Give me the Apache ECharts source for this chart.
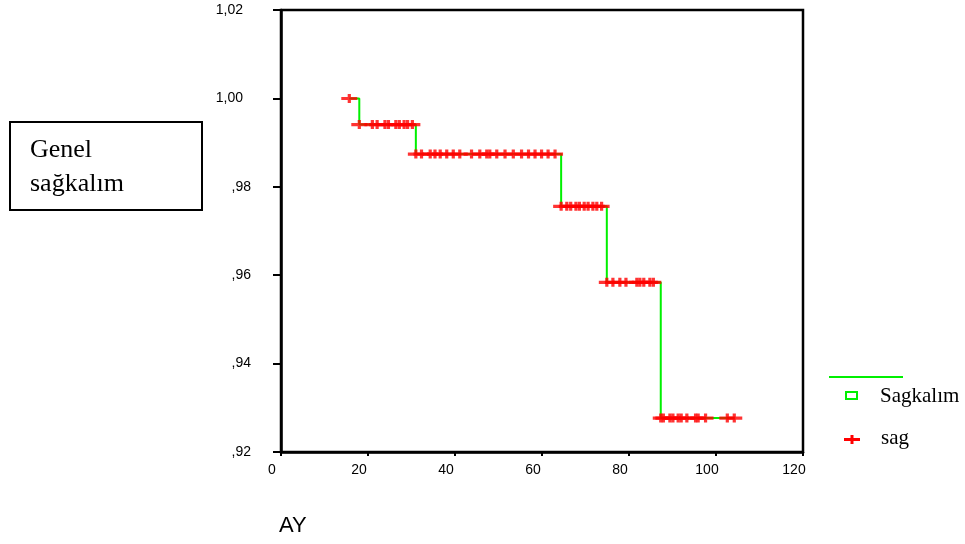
<!DOCTYPE html>
<html>
<head>
<meta charset="utf-8">
<script src="https://cdn.jsdelivr.net/npm/echarts@6/dist/echarts.min.js"></script>
<style>
    html, body { margin: 0; padding: 0; background: #fff; }
    #chart { width: 965px; height: 544px; }
</style>
</head>
<body>
<div id="chart"></div>
<script>
    // Kaplan-Meier step: first time, event (drop) times, survival after each step
    const startTime = 15.7
    const eventTimes = [18, 31, 64.4, 74.9, 87.3]
    const survival = [1.0, 0.9941, 0.9874, 0.9756, 0.9584, 0.9277]
    const endTime = 104.2

    // censored cases, one list per survival level
    const censor0 = [15.7]
    const censor1 = [18, 21.0, 22.1, 23.9, 24.7, 26.4, 27.2, 28.3, 29.1, 30.2]
    const censor2 = [31, 32.3, 34.3, 35.4, 36.6, 38.1, 39.6, 41.1, 43.8, 45.7, 47.3, 48.0,
        49.6, 51.5, 53.4, 55.3, 56.9, 58.4, 59.9, 61.4, 63.0]
    const censor3 = [64.4, 65.7, 66.6, 67.8, 68.6, 69.7, 70.6, 71.7, 72.6, 73.7]
    const censor4 = [74.9, 76.3, 77.9, 79.3, 81.8, 82.5, 83.4, 84.8, 85.6]
    const censor5 = [87.3, 87.9, 89.4, 90.1, 91.3, 92.0, 93.3, 95.3, 95.9, 97.6, 102.6, 104.2]

    const xTicks = [0, 120, 20]
    const yTicks = [0.92, 1.02, 0.02]

    const green = '#00f000'
    const red = '#ff0000'
    const plusPath = 'path://M0,3H16V6.2H0Z M6.4,0H9.6V9H6.4Z'

    const stepData = [[startTime, survival[0]]]
    eventTimes.forEach((t, i) => stepData.push([t, survival[i + 1]]))
    stepData.push([endTime, survival[survival.length - 1]])

    const censorData = []
    ;[censor0, censor1, censor2, censor3, censor4, censor5].forEach((list, i) => {
        list.forEach(t => censorData.push([t, survival[i]]))
    })

    const chart = echarts.init(document.getElementById('chart'))
    chart.setOption({
        animation: false,
        grid: {
            left: 281,
            right: 162,
            top: 10,
            bottom: 92,
            show: true,
            borderColor: '#000',
            borderWidth: 2.5
        },
        xAxis: {
            type: 'value',
            min: xTicks[0],
            max: xTicks[1],
            interval: xTicks[2],
            splitLine: {show: false},
            axisLine: {lineStyle: {color: '#000', width: 2.5}},
            axisTick: {length: 4, lineStyle: {color: '#000', width: 2}},
            axisLabel: {
                color: '#000',
                fontFamily: 'Liberation Sans',
                fontSize: 14,
                margin: 11,
                padding: [0, 18, 0, 0]
            }
        },
        yAxis: {
            type: 'value',
            min: yTicks[0],
            max: yTicks[1],
            interval: yTicks[2],
            splitLine: {show: false},
            axisLine: {lineStyle: {color: '#000', width: 2.5}},
            axisTick: {length: 8, lineStyle: {color: '#000', width: 2}},
            axisLabel: {
                color: '#000',
                fontFamily: 'Liberation Sans',
                fontSize: 14,
                margin: 30,
                formatter: v => {
                    const s = v.toFixed(2).replace('.', ',')
                    if (s.charAt(0) === '0') return '{b|' + s.slice(1) + '}'
                    return '{a|' + s + '}'
                },
                rich: {
                    a: {fontFamily: 'Liberation Sans', fontSize: 14, color: '#000', padding: [0, 8, 0, 0]},
                    b: {fontFamily: 'Liberation Sans', fontSize: 14, color: '#000'}
                }
            }
        },
        series: [
            {
                name: 'Sagkalım',
                type: 'line',
                step: 'end',
                data: stepData,
                showSymbol: false,
                lineStyle: {color: green, width: 2},
                z: 2
            },
            {
                name: 'sag',
                type: 'scatter',
                data: censorData,
                symbol: plusPath,
                symbolSize: [16, 9],
                itemStyle: {color: red},
                z: 3
            }
        ],
        graphic: [
            {
                type: 'rect',
                shape: {x: 10, y: 122, width: 192, height: 88},
                style: {fill: '#fff', stroke: '#000', lineWidth: 2}
            },
            {
                type: 'text',
                x: 30,
                y: 133,
                style: {
                    text: 'Genel\nsağkalım',
                    font: '26px "Liberation Serif"',
                    lineHeight: 34,
                    fill: '#000'
                }
            },
            {
                type: 'text',
                x: 279,
                y: 515,
                style: {text: 'AY', font: '22px "Liberation Sans"', fill: '#000'}
            },
            {
                type: 'line',
                shape: {x1: 829, y1: 377, x2: 903, y2: 377},
                style: {stroke: green, lineWidth: 2}
            },
            {
                type: 'rect',
                shape: {x: 846, y: 392, width: 11, height: 7},
                style: {fill: '#fff', stroke: green, lineWidth: 2}
            },
            {
                type: 'text',
                x: 880,
                y: 396,
                style: {
                    text: 'Sagkalım',
                    font: '21px "Liberation Serif"',
                    verticalAlign: 'middle',
                    fill: '#000'
                }
            },
            {
                type: 'rect',
                shape: {x: 844, y: 438, width: 16, height: 3},
                style: {fill: red}
            },
            {
                type: 'rect',
                shape: {x: 850.5, y: 435, width: 3, height: 9},
                style: {fill: red}
            },
            {
                type: 'text',
                x: 881,
                y: 438,
                style: {
                    text: 'sag',
                    font: '21px "Liberation Serif"',
                    verticalAlign: 'middle',
                    fill: '#000'
                }
            }
        ]
    })
</script>
</body>
</html>
